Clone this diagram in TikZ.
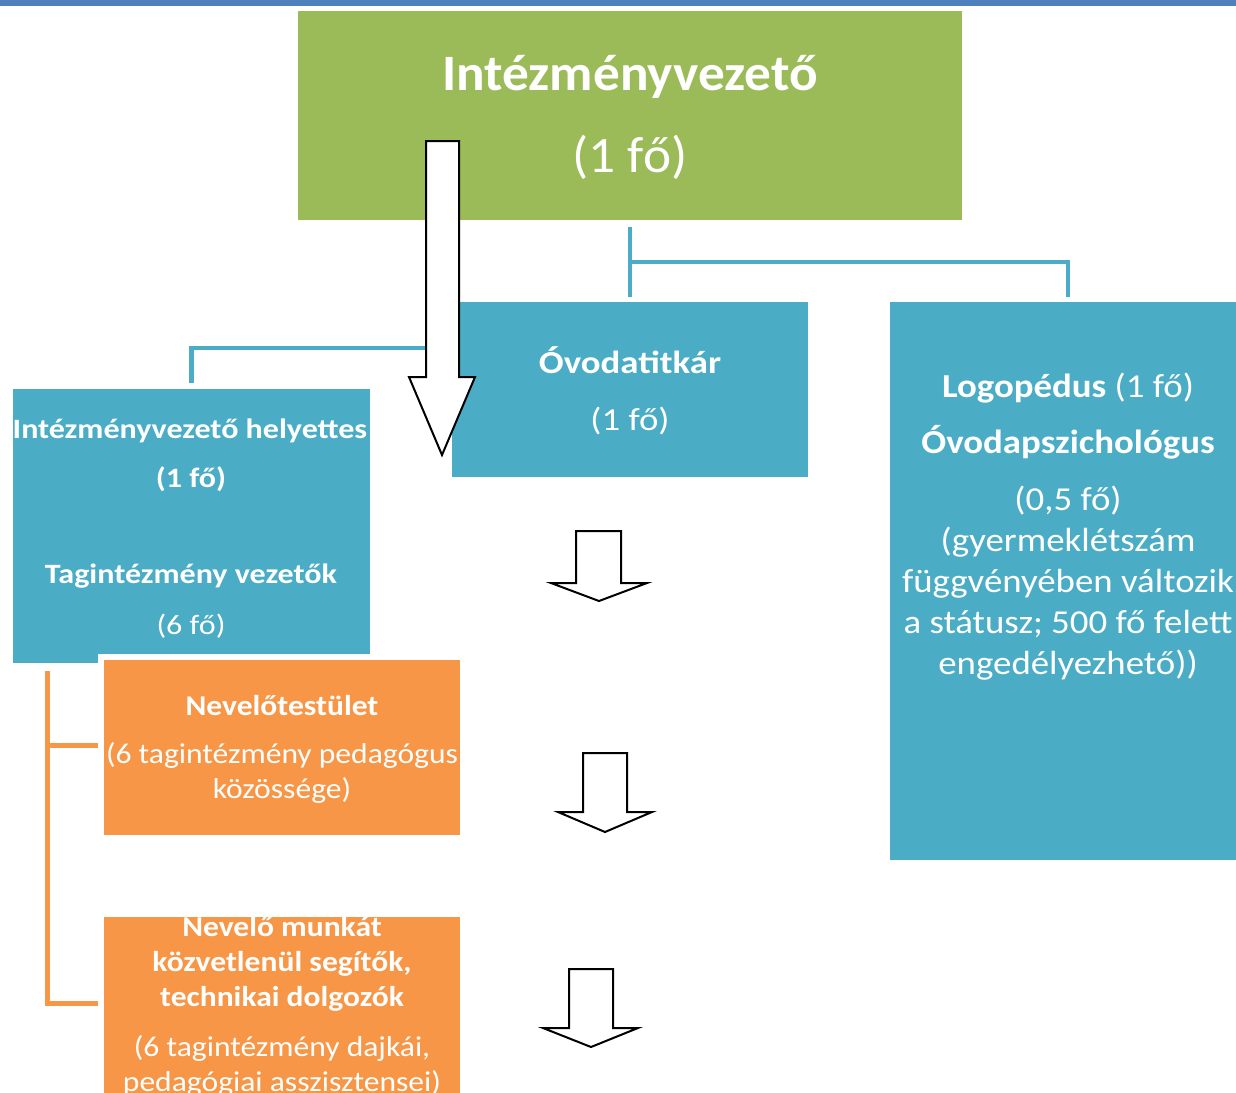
\documentclass[tikz,border=0pt]{standalone}
\usepackage{fontspec}
\setmainfont{Carlito}
\newfontfamily\wfontA[FakeStretch=1.1]{Carlito}
\newfontfamily\wfontB[FakeStretch=1.15]{Carlito}
\newfontfamily\wfontC[FakeStretch=1.145]{Carlito}
\newfontfamily\wfontT[FakeStretch=1.045]{Carlito}
\definecolor{barblue}{HTML}{4F81BD}
\definecolor{boxgreen}{HTML}{9BBB59}
\definecolor{boxteal}{HTML}{4BACC6}
\definecolor{boxorange}{HTML}{F79646}
\tikzset{
  box/.style={rectangle, draw=none, outer sep=0pt, inner sep=0pt},
  obox/.style={rectangle, fill=boxorange, draw=white, line width=6pt, inner sep=0pt},
  txt/.style={text=white, anchor=base, inner sep=0pt, outer sep=0pt},
  tealline/.style={draw=boxteal, line width=4.5pt},
  orangeline/.style={draw=boxorange, line width=5pt},
  bigarrow/.style={draw=black, fill=white, line width=2pt, line join=miter},
  smallarrow/.style={draw=black, fill=white, line width=2pt, line join=miter}
}
\begin{document}
\begin{tikzpicture}[x=1pt,y=-1pt]
\useasboundingbox (0,0) rectangle (1236,1092);
\clip (0,0) rectangle (1236,1092);
\fill[white] (0,0) rectangle (1236,1092);
% top bar
\fill[barblue] (0,0) rectangle (1236,6);

% boxes
\node[box, fill=boxgreen, minimum width=664pt, minimum height=209pt] (ceo) at (630,115.5) {};
\node[box, fill=boxteal, minimum width=356pt, minimum height=175pt] (sec) at (630,389.5) {};
\node[box, fill=boxteal, minimum width=356pt, minimum height=558pt] (logo) at (1068,581) {};
\node[box, fill=boxteal, minimum width=357pt, minimum height=274pt] (dep) at (191.5,526) {};
\node[obox, minimum width=362pt, minimum height=181pt] (nev) at (282,747.5) {};
\node[obox, minimum width=362pt, minimum height=186pt] (help) at (282,1007) {};

% connectors
\coordinate (hub) at (630,262);
\coordinate (j1) at (452,348);
\coordinate (otop) at (47,671);
\draw[tealline] ([yshift=-7pt]ceo.south) -- ([yshift=5pt]sec.north);
\draw[tealline] (hub) -| ([yshift=5pt]logo.north);
\draw[tealline] ([yshift=6pt]dep.north) |- (j1);
\draw[orangeline] (otop) |- ([yshift=2.5pt]nev.west);
\draw[orangeline] (otop) |- ([yshift=4pt]help.west);

% arrows
\draw[bigarrow] (426,141) -- (459,141) -- (459,377) -- (475,377) -- (442,455) -- (409,377) -- (426,377) -- cycle;
\draw[smallarrow] (576,531) -- (621,531) -- (621,583) -- (647,583) -- (599,601) -- (551,583) -- (576,583) -- cycle;
\draw[smallarrow] (583,753) -- (627,753) -- (627,812) -- (652,812) -- (605,832) -- (558,812) -- (583,812) -- cycle;
\draw[smallarrow] (569,969) -- (613,969) -- (613,1028) -- (638,1028) -- (591,1047) -- (543,1028) -- (569,1028) -- cycle;

% texts: head
\node[txt, font=\wfontT\fontsize{51}{61}\selectfont\bfseries] (t1) at (630,90) {Intézményvezető};
\node[txt, font=\wfontT\fontsize{51}{61}\selectfont] (t2) at (630,172) {(1 fő)};

% secretary
\node[txt, font=\wfontB\fontsize{32}{39}\selectfont\bfseries] (s1) at (630,373) {Óvodatitkár};
\node[txt, font=\wfontB\fontsize{32}{39}\selectfont] (s2) at (630,430) {(1 fő)};

% deputy
\node[txt, font=\wfontC\fontsize{28}{34}\selectfont\bfseries] (d1) at (190,438) {Intézményvezető helyettes};
\node[txt, font=\wfontC\fontsize{28}{34}\selectfont\bfseries] (d2) at (191,487) {(1 fő)};
\node[txt, font=\wfontC\fontsize{28}{34}\selectfont\bfseries] (d3) at (191,583) {Tagintézmény vezetők};
\node[txt, font=\wfontC\fontsize{28}{34}\selectfont] (d4) at (191,634) {(6 fő)};

% logo
\node[txt, font=\wfontA\fontsize{33.5}{41}\selectfont] (l1) at (1068,397) {\textbf{Logopédus} (1 fő)};
\node[txt, font=\wfontA\fontsize{33.5}{41}\selectfont\bfseries] (l2) at (1068,453) {Óvodapszichológus};
\node[txt, font=\wfontA\fontsize{33.5}{41}\selectfont] (l3) at (1068,510) {(0,5 fő)};
\node[txt, font=\wfontA\fontsize{33.5}{41}\selectfont] (l4) at (1068,551) {(gyermeklétszám};
\node[txt, font=\wfontA\fontsize{33.5}{41}\selectfont] (l5) at (1068,592) {függvényében változik};
\node[txt, font=\wfontA\fontsize{33.5}{41}\selectfont] (l6) at (1068,633) {a státusz; 500 fő felett};
\node[txt, font=\wfontA\fontsize{33.5}{41}\selectfont] (l7) at (1068,674) {engedélyezhető))};

% nevelotestulet
\node[txt, font=\wfontA\fontsize{28.7}{35}\selectfont\bfseries] (n1) at (282,715) {Nevelőtestület};
\node[txt, font=\wfontA\fontsize{28.7}{35}\selectfont] (n2) at (282,763) {(6 tagintézmény pedagógus};
\node[txt, font=\wfontA\fontsize{28.7}{35}\selectfont] (n3) at (282,798) {közössége)};

% helpers
\node[txt, font=\wfontA\fontsize{28.7}{35}\selectfont\bfseries] (h1) at (282,936) {Nevelő munkát};
\node[txt, font=\wfontA\fontsize{28.7}{35}\selectfont\bfseries] (h2) at (282,971) {közvetlenül segítők,};
\node[txt, font=\wfontA\fontsize{28.7}{35}\selectfont\bfseries] (h3) at (282,1006) {technikai dolgozók};
\node[txt, font=\wfontA\fontsize{28.7}{35}\selectfont] (h4) at (282,1056) {(6 tagintézmény dajkái,};
\node[txt, font=\wfontA\fontsize{28.7}{35}\selectfont] (h5) at (282,1091) {pedagógiai asszisztensei)};
\end{tikzpicture}
\end{document}
